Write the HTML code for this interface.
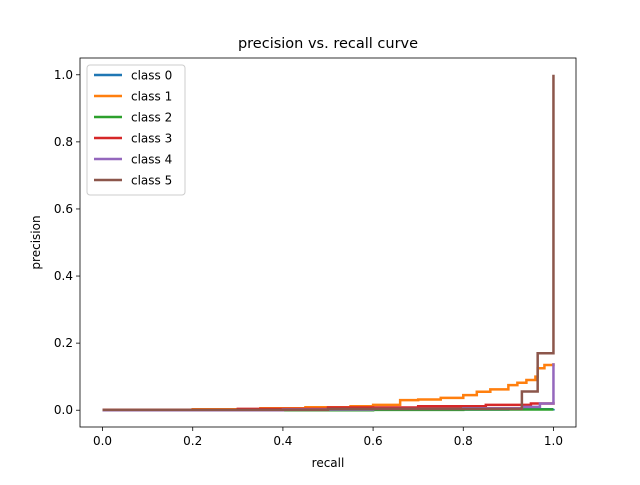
<!DOCTYPE html>
<html><head><meta charset="utf-8"><style>
body{margin:0;background:#fff}
svg text{font-family:"DejaVu Sans","Liberation Sans",sans-serif;fill:#000}
</style></head><body>
<svg id="chart" width="640" height="480"></svg>
<script>
const xTicks=[0,0.2,0.4,0.6,0.8,1.0];
const yTicks=[0,0.2,0.4,0.6,0.8,1.0];
const seriesNames=["class 0","class 1","class 2","class 3","class 4","class 5"];
const seriesColors=["#1f77b4","#ff7f0e","#2ca02c","#d62728","#9467bd","#8c564b"];
const recall0=[0,0.5,0.9,1.0,1.0];
const precision0=[0.001,0.002,0.003,0.004,0.004];
const recall1=[0,0.2,0.35,0.45,0.55,0.6,0.66,0.7,0.75,0.8,0.83,0.86,0.9,0.92,0.94,0.96,0.965,0.98,1.0,1.0];
const precision1=[0.001,0.003,0.006,0.009,0.012,0.016,0.03,0.032,0.037,0.045,0.055,0.062,0.075,0.082,0.09,0.1,0.125,0.135,0.14,0.14];
const recall2=[0,0.6,0.8,1.0,1.0];
const precision2=[0.0,0.001,0.002,0.002,0.002];
const recall3=[0,0.3,0.5,0.7,0.85,0.95,1.0,1.0];
const precision3=[0.001,0.004,0.008,0.012,0.016,0.02,0.025,0.025];
const recall4=[0,0.4,0.6,0.8,0.93,0.97,1.0,1.0];
const precision4=[0.0,0.002,0.004,0.006,0.01,0.02,0.02,0.14];
const recall5=[0,0.5,0.93,0.965,1.0,1.0];
const precision5=[0.001,0.004,0.056,0.17,0.17,1.0];
const recalls=[recall0,recall1,recall2,recall3,recall4,recall5];
const precisions=[precision0,precision1,precision2,precision3,precision4,precision5];

const L=80,R=576,T=58,B=427;
const sx=v=>L+(v+0.05)/1.1*(R-L);
const sy=v=>B-(v+0.05)/1.1*(B-T);
const svg=document.getElementById('chart');
const NS='http://www.w3.org/2000/svg';
function mk(tag,attrs,parent){const e=document.createElementNS(NS,tag);for(const k in attrs)e.setAttribute(k,attrs[k]);(parent||svg).appendChild(e);return e;}

const t=mk('text',{x:(L+R)/2,y:48,'text-anchor':'middle','font-size':14.5});t.textContent='precision vs. recall curve';



xTicks.forEach(v=>{
  const ln=mk('line',{x1:sx(v),x2:sx(v),y1:B,y2:B+4,stroke:'#000','stroke-width':0.8});
  
  
  const tx=mk('text',{x:sx(v),y:B+18,'text-anchor':'middle','font-size':12});tx.textContent=v.toFixed(1);
  
  
});
yTicks.forEach(v=>{
  const ln=mk('line',{x1:L-4,x2:L,y1:sy(v),y2:sy(v),stroke:'#000','stroke-width':0.8});
  
  
  const tx=mk('text',{x:L-7,y:sy(v)+4,'text-anchor':'end','font-size':12});tx.textContent=v.toFixed(1);
  
  
});
const xl=mk('text',{x:(L+R)/2,y:467,'text-anchor':'middle','font-size':12});xl.textContent='recall';


const yl=mk('text',{x:40,y:(T+B)/2,'text-anchor':'middle','font-size':12,transform:`rotate(-90 40 ${(T+B)/2})`});yl.textContent='precision';



recalls.forEach((rc,i)=>{
  const pr=precisions[i];
  let d=`M${sx(rc[0])},${sy(pr[0])}`;
  for(let j=1;j<rc.length;j++){d+=` H${sx(rc[j])} V${sy(pr[j])}`;}
  const p=mk('path',{d:d,fill:'none',stroke:seriesColors[i],'stroke-width':2.5});
  
  
});

const frame=mk('rect',{x:L,y:T,width:R-L,height:B-T,fill:'none',stroke:'#000','stroke-width':0.8});



const lg=mk('g',{});


mk('rect',{x:87,y:65,width:98,height:130,rx:3,fill:'#fff',stroke:'#ccc','stroke-width':1},lg);
seriesNames.forEach((n,i)=>{
  const y=75+i*21;
  const g=mk('g',{},lg);
  
  
  mk('line',{x1:94,x2:122,y1:y,y2:y,stroke:seriesColors[i],'stroke-width':2.5},g);
  const tx=mk('text',{x:131,y:y+4.5,'font-size':12},g);tx.textContent=n;
});
</script>
</body></html>
